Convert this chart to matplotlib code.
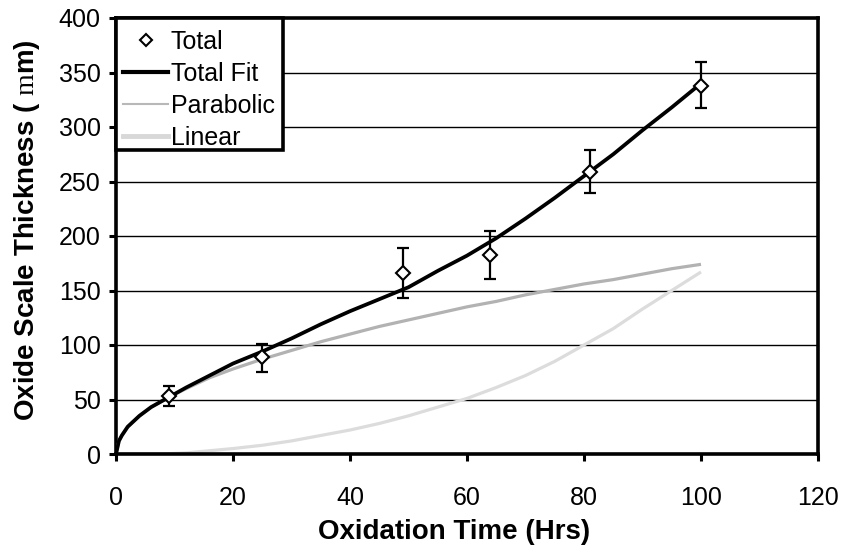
import matplotlib
matplotlib.use('Agg')
import matplotlib.pyplot as plt
from matplotlib.lines import Line2D
from matplotlib.patches import Rectangle

plt.rcParams['font.family'] = ['Liberation Sans', 'DejaVu Sans']
plt.rcParams['mathtext.fontset'] = 'custom'
plt.rcParams['mathtext.rm'] = 'Liberation Serif'

# Measured data points (hrs, thickness) with error bar limits
time_pts = [9, 25, 49, 64, 81, 100]
total = [53, 89, 166, 183, 259, 338]
err_lo = [44, 75, 143, 161, 239, 317]
err_hi = [62, 101, 189, 205, 279, 360]

# Curves
par_t = [0, 0.5, 1, 2, 4, 6, 9, 12, 16, 20, 25, 30, 35, 40, 45, 50, 55, 60,
         65, 70, 75, 80, 85, 90, 95, 100]
parabolic = [0, 12, 17, 25, 35, 43, 52, 60, 70, 78, 87, 95, 103, 110, 117,
             123, 129, 135, 140, 146, 151, 156, 160, 165, 170, 174]

lin_t = [0, 8, 12, 16, 20, 25, 30, 35, 40, 45, 50, 55, 60, 65, 70, 75, 80,
         85, 90, 95, 100]
linear = [0, 0, 1, 3, 5, 8, 12, 17, 22, 28, 35, 43, 51, 61, 72, 85, 100,
          115, 133, 150, 167]

fit_t = [0, 0.5, 1, 2, 4, 6, 9, 12, 16, 20, 25, 30, 35, 40, 45, 50, 55, 60,
         65, 70, 75, 80, 85, 90, 95, 100]
total_fit = [0, 12, 17, 25, 35, 43, 52, 61, 72, 83, 94, 106, 119, 131, 142,
             153, 168, 182, 198, 216, 235, 255, 275, 297, 318, 340]

x_ticks = [0, 20, 40, 60, 80, 100, 120]
y_ticks = [0, 50, 100, 150, 200, 250, 300, 350, 400]
legend_labels = ['Total', 'Total Fit', 'Parabolic', 'Linear']

fig = plt.figure(figsize=(8.45, 5.5), dpi=100)
ax = fig.add_axes([116/845, 1-454/550, (818-116)/845, (454-18)/550])

for yv in y_ticks[1:-1]:
    ax.axhline(yv, color='black', lw=1.0, zorder=1)

ax.plot(lin_t, linear, color='#dcdcdc', lw=2.3, zorder=2, solid_capstyle='butt')
ax.plot(par_t, parabolic, color='#b2b2b2', lw=2.3, zorder=3, solid_capstyle='butt')
ax.plot(fit_t, total_fit, color='black', lw=2.7, zorder=4, solid_capstyle='butt')

yerr = [[t - lo for t, lo in zip(total, err_lo)], [hi - t for t, hi in zip(total, err_hi)]]
ax.errorbar(time_pts, total, yerr=yerr, fmt='none', ecolor='black', elinewidth=1.6,
            capsize=4.5, capthick=1.6, zorder=5)
ax.plot(time_pts, total, linestyle='none', marker='D', markersize=7.5,
        markerfacecolor='white', markeredgecolor='black', markeredgewidth=1.5, zorder=6)

ax.set_xlim(0, 120)
ax.set_ylim(0, 400)
ax.set_xticks(x_ticks)
ax.set_yticks(y_ticks)
ax.tick_params(axis='both', direction='out', length=5, width=2.2, labelsize=18, colors='black')
ax.tick_params(axis='x', pad=18)
ax.tick_params(axis='y', pad=6)
for s in ax.spines.values():
    s.set_linewidth(2.6)
    s.set_color('black')

ax.set_xlabel('Oxidation Time (Hrs)', fontsize=20, fontweight='bold')
ax.set_ylabel('Oxide Scale Thickness ( $\\mathrm{m}$m)', fontsize=20, fontweight='bold')
ax.xaxis.set_label_coords((454 - 116) / 702, (454 - 519) / 436)
ax.yaxis.set_label_coords((42 - 116) / 702, (454 - 230) / 436)

# Legend box (fixed size as in the reference, bottom edge cuts the last label)
box_x1 = (283 - 116) / 702
box_y0 = (454 - 150) / 436
ax.add_patch(Rectangle((0, box_y0), box_x1, 1 - box_y0, transform=ax.transAxes,
                       facecolor='white', edgecolor='none', zorder=8, clip_on=False))
ax.add_patch(Rectangle((0, box_y0), box_x1, 1 - box_y0, transform=ax.transAxes,
                       facecolor='none', edgecolor='black', lw=2.6, zorder=11,
                       clip_on=False))

handles = [
    Line2D([], [], linestyle='none', marker='D', markersize=6, markerfacecolor='white',
           markeredgecolor='black', markeredgewidth=1.5),
    Line2D([], [], color='black', lw=3),
    Line2D([], [], color='#b8b8b8', lw=1.5),
    Line2D([], [], color='#d8d8d8', lw=3.5),
]
leg = ax.legend(handles, legend_labels, loc='upper left', bbox_to_anchor=(0.0, 0.99),
                borderaxespad=0, fontsize=18, frameon=False,
                handlelength=1.8, handletextpad=0.1, labelspacing=0.32,
                borderpad=0.3)
leg.set_zorder(10)

fig.savefig('out.png', dpi=100)
